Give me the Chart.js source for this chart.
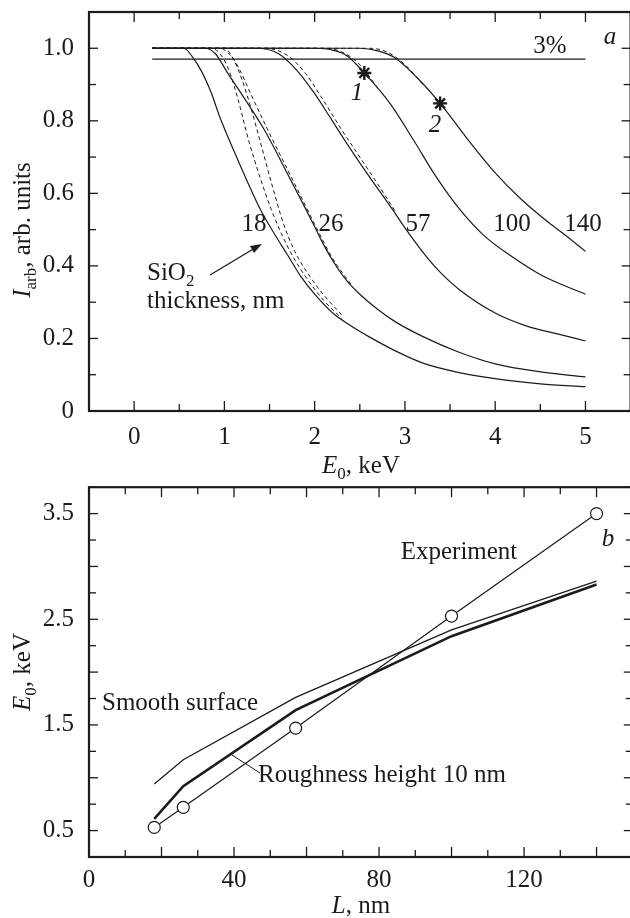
<!DOCTYPE html>
<html>
<head>
<meta charset="utf-8">
<script src="https://cdn.jsdelivr.net/npm/chart.js@4.4.1/dist/chart.umd.min.js"></script>
<style>
html, body { margin: 0; padding: 0; background: #fff; overflow: hidden; width: 630px; height: 918px; }
#wrapA { position: absolute; left: 0; top: 0; width: 640px; height: 480px; }
#wrapB { position: absolute; left: 0; top: 480px; width: 640px; height: 438px; }
canvas { display: block; }
</style>
</head>
<body>
<div id="wrapA"><canvas id="chartA" width="640" height="480" style="width:640px;height:480px"></canvas></div>
<div id="wrapB"><canvas id="chartB" width="640" height="438" style="width:640px;height:438px"></canvas></div>
<script>
// ---- panel a: intensity vs primary energy, one curve per SiO2 thickness (nm)
var eThreshold = [0.2, 5.0];
var iThreshold = [0.97, 0.97];

var e18 = [0.2, 0.55, 0.65, 0.75, 0.85, 0.95, 1.1, 1.25, 1.4, 1.55, 1.7, 1.85, 2.0, 2.2, 2.4, 2.6, 2.9, 3.2, 3.6, 4.0, 4.5, 5.0];
var i18 = [1.0, 1.0, 0.975, 0.935, 0.88, 0.81, 0.72, 0.635, 0.555, 0.49, 0.43, 0.37, 0.322, 0.27, 0.235, 0.205, 0.165, 0.132, 0.106, 0.089, 0.075, 0.067];
var e18a = [0.2, 0.85, 0.95, 1.05, 1.15, 1.27, 1.4, 1.52, 1.63, 1.75, 1.9, 2.1, 2.3];
var i18a = [1.0, 1.0, 0.985, 0.94, 0.86, 0.745, 0.64, 0.555, 0.49, 0.43, 0.37, 0.305, 0.255];
var e18b = [0.2, 1.0, 1.1, 1.2, 1.3, 1.4, 1.52, 1.65, 1.78, 1.95, 2.1, 2.3];
var i18b = [1.0, 1.0, 0.97, 0.91, 0.83, 0.74, 0.63, 0.52, 0.44, 0.37, 0.32, 0.265];

var e26 = [0.2, 0.78, 0.9, 1.04, 1.2, 1.45, 1.67, 1.89, 2.0, 2.1, 2.25, 2.36, 2.5, 2.7, 2.9, 3.2, 3.6, 4.0, 4.5, 5.0];
var i26 = [1.0, 1.0, 0.985, 0.93, 0.87, 0.772, 0.668, 0.562, 0.508, 0.458, 0.395, 0.358, 0.322, 0.28, 0.245, 0.205, 0.162, 0.13, 0.108, 0.094];
var e26r = [0.2, 0.95, 1.05, 1.15, 1.3, 1.5, 1.7, 1.9, 2.05, 2.2, 2.4];
var i26r = [1.0, 1.0, 0.985, 0.95, 0.87, 0.765, 0.665, 0.565, 0.49, 0.42, 0.35];

var e57 = [0.2, 1.35, 1.6, 1.8, 2.0, 2.17, 2.35, 2.58, 2.85, 3.0, 3.24, 3.4, 3.6, 4.0, 4.35, 4.7, 5.0];
var i57 = [1.0, 1.0, 0.985, 0.94, 0.875, 0.81, 0.74, 0.655, 0.56, 0.505, 0.425, 0.38, 0.335, 0.27, 0.234, 0.212, 0.193];
var e57r = [0.2, 1.45, 1.7, 1.9, 2.1, 2.3, 2.5, 2.7, 2.9];
var i57r = [1.0, 1.0, 0.98, 0.93, 0.855, 0.775, 0.7, 0.625, 0.548];

var e100 = [0.2, 2.0, 2.2, 2.36, 2.55, 2.84, 3.1, 3.35, 3.61, 3.87, 4.16, 4.53, 5.0];
var i100 = [1.0, 1.0, 0.995, 0.979, 0.932, 0.846, 0.745, 0.644, 0.555, 0.485, 0.43, 0.372, 0.322];
var e100r = [0.2, 2.1, 2.3, 2.5, 2.7];
var i100r = [1.0, 1.0, 0.99, 0.955, 0.89];

var e140 = [0.2, 2.5, 2.7, 2.88, 3.13, 3.39, 3.68, 3.98, 4.27, 4.57, 4.75, 5.0];
var i140 = [1.0, 1.0, 0.993, 0.975, 0.92, 0.848, 0.754, 0.662, 0.588, 0.524, 0.49, 0.44];
var e140r = [0.2, 2.6, 2.8, 3.0, 3.2];
var i140r = [1.0, 1.0, 0.99, 0.955, 0.9];

var starE = [2.55, 3.39];
var starI = [0.932, 0.848];

var xLabelsA = [0, 1, 2, 3, 4, 5];
var yLabelsA = [0, 0.2, 0.4, 0.6, 0.8, 1.0];

// ---- panel b: E0 at the 3% level vs layer thickness
var thickness = [18, 26, 57, 100, 140];
var eExperiment = [0.53, 0.72, 1.47, 2.53, 3.5];
var eSmooth = [0.94, 1.17, 1.76, 2.40, 2.86];
var eRough = [0.61, 0.92, 1.64, 2.34, 2.83];

var xLabelsB = [0, 40, 80, 120];
var yLabelsB = [0.5, 1.5, 2.5, 3.5];

var ink = '#1b1b1b';
var serif = '"Liberation Serif", "DejaVu Serif", serif';
Chart.defaults.font.family = serif;
Chart.defaults.font.size = 25;
Chart.defaults.color = ink;

function pts(xs, ys) {
    return xs.map(function (x, i) { return { x: x, y: ys[i] }; });
}

function curve(xs, ys, dashed) {
    return {
        data: pts(xs, ys),
        showLine: true,
        borderColor: ink,
        borderWidth: dashed ? 1 : 1.2,
        borderDash: dashed ? [4, 3] : [],
        pointRadius: 0,
        cubicInterpolationMode: 'monotone'
    };
}

function inList(list, v) {
    return list.some(function (l) { return Math.abs(l - v) < 1e-6; });
}

function isMultiple(v, step) {
    var q = v / step;
    return Math.abs(q - Math.round(q)) < 1e-6;
}

function seg(ctx, x1, y1, x2, y2) {
    ctx.beginPath();
    ctx.moveTo(x1, y1);
    ctx.lineTo(x2, y2);
    ctx.stroke();
}

// text made of runs (italic letter, subscript, plain)
function drawRuns(ctx, runs, x, y, align) {
    var w = 0;
    runs.forEach(function (r) { ctx.font = r.font; w += ctx.measureText(r.t).width; });
    var cx = align === 'center' ? x - w / 2 : x;
    runs.forEach(function (r) {
        ctx.font = r.font;
        ctx.fillText(r.t, cx, y + (r.dy || 0));
        cx += ctx.measureText(r.t).width;
    });
}

var F = '25px ' + serif;
var FI = 'italic 25px ' + serif;
var FS = '17px ' + serif;

// inward ticks on all four sides plus the frame
var frameTicks = {
    id: 'frameTicks',
    afterDatasetsDraw: function (chart, args, o) {
        var ctx = chart.ctx, a = chart.chartArea;
        var sx = chart.scales.x, sy = chart.scales.y;
        ctx.save();
        ctx.strokeStyle = ink;
        ctx.lineWidth = 1.3;
        sx.ticks.forEach(function (t) {
            var px = sx.getPixelForValue(t.value);
            var len = isMultiple(t.value, o.xMajor) ? 10 : 7;
            seg(ctx, px, a.bottom, px, a.bottom - len);
            seg(ctx, px, a.top, px, a.top + len);
        });
        sy.ticks.forEach(function (t) {
            var py = sy.getPixelForValue(t.value);
            var len = isMultiple(t.value, o.yMajor) ? 9 : 7;
            seg(ctx, a.left, py, a.left + len, py);
            seg(ctx, a.right, py, a.right - len, py);
        });
        ctx.lineWidth = 2.2;
        ctx.strokeRect(a.left, a.top, a.right - a.left, a.bottom - a.top);
        ctx.restore();
    }
};

var notes = {
    id: 'notes',
    afterDraw: function (chart, args, o) {
        var ctx = chart.ctx;
        ctx.save();
        ctx.fillStyle = ink;
        ctx.strokeStyle = ink;
        ctx.textBaseline = 'alphabetic';
        o.draw(ctx);
        ctx.restore();
    }
};

function noPadding(s) {
    s.paddingTop = 0;
    s.paddingBottom = 0;
    s.paddingLeft = 0;
    s.paddingRight = 0;
}

function fixedAxes(xMin, xMax, xStep, xLabels, xPad, xHeight, yMin, yMax, yStep, yLabels, yFmt) {
    return {
        x: {
            type: 'linear', min: xMin, max: xMax,
            grid: { display: false, drawTicks: false }, border: { display: false },
            ticks: {
                stepSize: xStep, autoSkip: false, maxRotation: 0, padding: xPad,
                callback: function (v) { return inList(xLabels, v) ? String(Math.round(v)) : ''; }
            },
            afterFit: function (s) { s.height = xHeight; noPadding(s); }
        },
        y: {
            type: 'linear', min: yMin, max: yMax,
            grid: { display: false, drawTicks: false }, border: { display: false },
            ticks: {
                stepSize: yStep, autoSkip: false, padding: 15,
                callback: function (v) { return inList(yLabels, v) ? yFmt(v) : ''; }
            },
            afterFit: function (s) { s.width = 89; noPadding(s); }
        }
    };
}

// ---------------- panel a
new Chart(document.getElementById('chartA').getContext('2d'), {
    type: 'scatter',
    data: {
        datasets: [
            {
                data: pts(starE, starI),
                pointStyle: 'star', pointRadius: 7, borderWidth: 2.4,
                borderColor: ink, backgroundColor: ink
            },
            curve(eThreshold, iThreshold, false),
            curve(e18, i18, false),
            curve(e18a, i18a, true),
            curve(e18b, i18b, true),
            curve(e26, i26, false),
            curve(e26r, i26r, true),
            curve(e57, i57, false),
            curve(e57r, i57r, true),
            curve(e100, i100, false),
            curve(e100r, i100r, true),
            curve(e140, i140, false),
            curve(e140r, i140r, true)
        ]
    },
    options: {
        responsive: false,
        animation: false,
        layout: { padding: { top: 12, right: 5, left: 0, bottom: 0 } },
        scales: fixedAxes(-0.5, 5.5, 0.5, xLabelsA, 11, 69, 0, 1.1, 0.1, yLabelsA,
            function (v) { return v === 0 ? '0' : v.toFixed(1); }),
        plugins: {
            legend: { display: false },
            tooltip: { enabled: false },
            frameTicks: { xMajor: 1, yMajor: 0.2 },
            notes: {
                draw: function (ctx) {
                    ctx.font = F;
                    ctx.textAlign = 'center';
                    [['18', 254], ['26', 331], ['57', 418], ['100', 512], ['140', 583]].forEach(function (l) {
                        ctx.fillText(l[0], l[1], 231);
                    });
                    ctx.fillText('3%', 550, 53);
                    ctx.font = FI;
                    ctx.fillText('a', 610, 44);
                    ctx.fillText('1', 357, 100);
                    ctx.fillText('2', 435, 132);
                    ctx.textAlign = 'left';
                    drawRuns(ctx, [{ t: 'SiO', font: F }, { t: '2', font: FS, dy: 6 }], 147, 280, 'left');
                    ctx.font = F;
                    ctx.fillText('thickness, nm', 147, 308);
                    // arrow towards the curves
                    ctx.lineWidth = 1.3;
                    seg(ctx, 210, 275, 255, 248);
                    ctx.beginPath();
                    ctx.moveTo(262, 244);
                    ctx.lineTo(250, 246);
                    ctx.lineTo(254, 253);
                    ctx.closePath();
                    ctx.fill();
                    // axis titles
                    drawRuns(ctx, [{ t: 'E', font: FI }, { t: '0', font: FS, dy: 6 }, { t: ', keV', font: F }], 361, 473, 'center');
                    ctx.save();
                    ctx.translate(22, 230);
                    ctx.rotate(-Math.PI / 2);
                    drawRuns(ctx, [{ t: 'I', font: FI }, { t: 'arb', font: FS, dy: 6 }, { t: ', arb. units', font: F }], 0, 8, 'center');
                    ctx.restore();
                }
            }
        }
    },
    plugins: [frameTicks, notes]
});

// ---------------- panel b
new Chart(document.getElementById('chartB').getContext('2d'), {
    type: 'scatter',
    data: {
        datasets: [
            {
                data: pts(thickness, eExperiment),
                showLine: true, borderColor: ink, borderWidth: 1.2,
                pointStyle: 'circle', pointRadius: 6, pointBorderWidth: 1.2,
                pointBackgroundColor: '#fff', pointBorderColor: ink
            },
            {
                data: pts(thickness, eSmooth),
                showLine: true, borderColor: ink, borderWidth: 1.3, pointRadius: 0
            },
            {
                data: pts(thickness, eRough),
                showLine: true, borderColor: ink, borderWidth: 2.6, pointRadius: 0
            }
        ]
    },
    options: {
        responsive: false,
        animation: false,
        layout: { padding: { top: 5, right: 5, left: 0, bottom: 0 } },
        scales: fixedAxes(0, 150, 10, xLabelsB, 8, 61, 0.25, 3.75, 0.25, yLabelsB,
            function (v) { return v.toFixed(1); }),
        plugins: {
            legend: { display: false },
            tooltip: { enabled: false },
            frameTicks: { xMajor: 20, yMajor: 0.5 },
            notes: {
                draw: function (ctx) {
                    ctx.font = F;
                    ctx.textAlign = 'center';
                    ctx.fillText('Experiment', 459, 79);
                    ctx.font = FI;
                    ctx.fillText('b', 608, 66);
                    ctx.font = F;
                    ctx.textAlign = 'left';
                    ctx.fillText('Smooth surface', 102, 230);
                    ctx.fillText('Roughness height 10 nm', 258, 302);
                    ctx.lineWidth = 1;
                    seg(ctx, 232, 275, 260, 293);
                    drawRuns(ctx, [{ t: 'L', font: FI }, { t: ', nm', font: F }], 361, 433, 'center');
                    ctx.save();
                    ctx.translate(22, 192);
                    ctx.rotate(-Math.PI / 2);
                    drawRuns(ctx, [{ t: 'E', font: FI }, { t: '0', font: FS, dy: 6 }, { t: ', keV', font: F }], 0, 8, 'center');
                    ctx.restore();
                }
            }
        }
    },
    plugins: [frameTicks, notes]
});
</script>
</body>
</html>
